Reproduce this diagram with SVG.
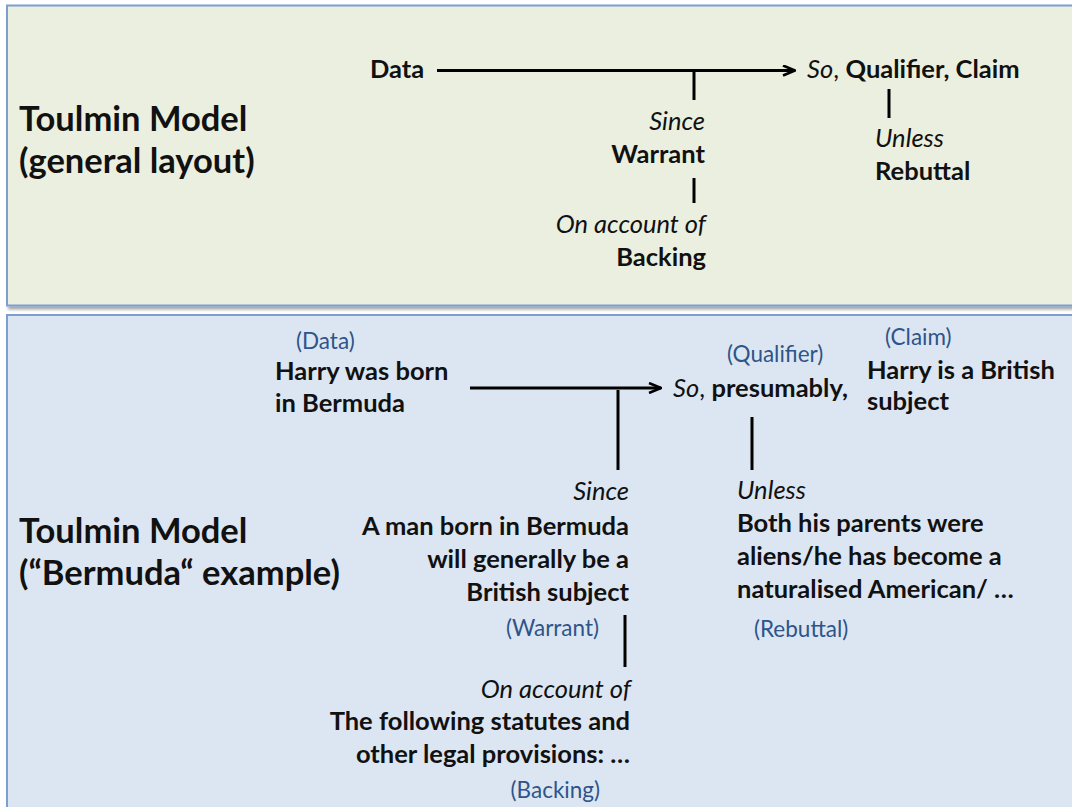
<svg xmlns="http://www.w3.org/2000/svg" width="1072" height="807" viewBox="0 0 1072 807">
  <style>
    text { font-family: Lato, "Open Sans", "Liberation Sans", sans-serif; fill: #111; }
    .title { font-size: 34.5px; font-weight: bold; }
    .b { font-size: 25.5px; font-weight: bold; }
    .i { font-size: 25.5px; font-style: italic; font-weight: normal; }
    .r { font-weight: normal; }
    .lbl { font-size: 22.5px; fill: #2e5489; }
    .end { text-anchor: end; }
    .panel { stroke: #7c9fd0; stroke-width: 2; }
    .conn { stroke: #000; stroke-width: 3; fill: none; }
  </style>
  <defs>
    <filter id="shadow" x="-5%" y="-5%" width="110%" height="115%">
      <feDropShadow dx="2" dy="3" stdDeviation="1.5" flood-color="#000" flood-opacity="0.35"/>
    </filter>
    <marker id="open-arrow" viewBox="0 0 14 12" refX="13" refY="6" markerWidth="14" markerHeight="12" markerUnits="userSpaceOnUse" orient="auto">
      <path d="M1,1 L13,6 L1,11" fill="none" stroke="#000" stroke-width="2.6"/>
    </marker>
  </defs>

  <!-- panels -->
  <rect id="panel-general" class="panel" x="7" y="5.5" width="1085" height="300" fill="#ebefdf" filter="url(#shadow)"/>
  <rect id="panel-bermuda" class="panel" x="7" y="315" width="1085" height="520" fill="#dce6f2" filter="url(#shadow)"/>

  <!-- connectors -->
  <g id="connectors" class="conn">
    <line x1="437" y1="70.5" x2="795" y2="70.5" marker-end="url(#open-arrow)"/>
    <line x1="694" y1="70" x2="694" y2="100"/>
    <line x1="694" y1="178" x2="694" y2="203"/>
    <line x1="889" y1="89" x2="889" y2="118"/>

    <line x1="470" y1="388" x2="661" y2="388" marker-end="url(#open-arrow)"/>
    <line x1="618" y1="390" x2="618" y2="470"/>
    <line x1="752" y1="417" x2="752" y2="470"/>
    <line x1="625" y1="615" x2="625" y2="667"/>
  </g>

  <!-- general layout -->
  <g id="title-general">
    <text class="title" x="19" y="131">Toulmin Model</text>
    <text class="title" x="19" y="173">(general layout)</text>
  </g>
  <g id="data-general"><text class="b" x="370" y="78">Data</text></g>
  <g id="claim-general"><text class="b" x="807" y="78"><tspan class="i">So</tspan><tspan class="r">, </tspan>Qualifier, Claim</text></g>
  <g id="warrant-general">
    <text class="i end" x="705" y="130">Since</text>
    <text class="b end" x="705" y="163">Warrant</text>
  </g>
  <g id="backing-general">
    <text class="i end" x="706" y="233">On account of</text>
    <text class="b end" x="706" y="266">Backing</text>
  </g>
  <g id="rebuttal-general">
    <text class="i" x="875" y="147">Unless</text>
    <text class="b" x="875" y="180">Rebuttal</text>
  </g>

  <!-- Bermuda example -->
  <g id="title-bermuda">
    <text class="title" x="19" y="543">Toulmin Model</text>
    <text class="title" x="19" y="585">(“Bermuda“ example)</text>
  </g>
  <g id="data-bermuda">
    <text class="lbl" x="296" y="349">(Data)</text>
    <text class="b" x="275" y="380">Harry was born</text>
    <text class="b" x="275" y="412">in Bermuda</text>
  </g>
  <g id="qualifier-bermuda">
    <text class="lbl" x="727" y="362">(Qualifier)</text>
    <text class="b" x="673" y="397"><tspan class="i">So</tspan><tspan class="r">, </tspan>presumably,</text>
  </g>
  <g id="claim-bermuda">
    <text class="lbl" x="885" y="345">(Claim)</text>
    <text class="b" x="867" y="379">Harry is a British</text>
    <text class="b" x="867" y="410">subject</text>
  </g>
  <g id="warrant-bermuda">
    <text class="i end" x="629" y="500">Since</text>
    <text class="b end" x="629" y="535">A man born in Bermuda</text>
    <text class="b end" x="629" y="568">will generally be a</text>
    <text class="b end" x="629" y="601">British subject</text>
    <text class="lbl end" x="599" y="636">(Warrant)</text>
  </g>
  <g id="backing-bermuda">
    <text class="i end" x="631" y="698">On account of</text>
    <text class="b end" x="630" y="730">The following statutes and</text>
    <text class="b end" x="630" y="763">other legal provisions: …</text>
    <text class="lbl end" x="600" y="798">(Backing)</text>
  </g>
  <g id="rebuttal-bermuda">
    <text class="i" x="737" y="499">Unless</text>
    <text class="b" x="737" y="532">Both his parents were</text>
    <text class="b" x="737" y="565">aliens/he has become a</text>
    <text class="b" x="737" y="598">naturalised American/ …</text>
    <text class="lbl" x="754" y="637">(Rebuttal)</text>
  </g>
</svg>
